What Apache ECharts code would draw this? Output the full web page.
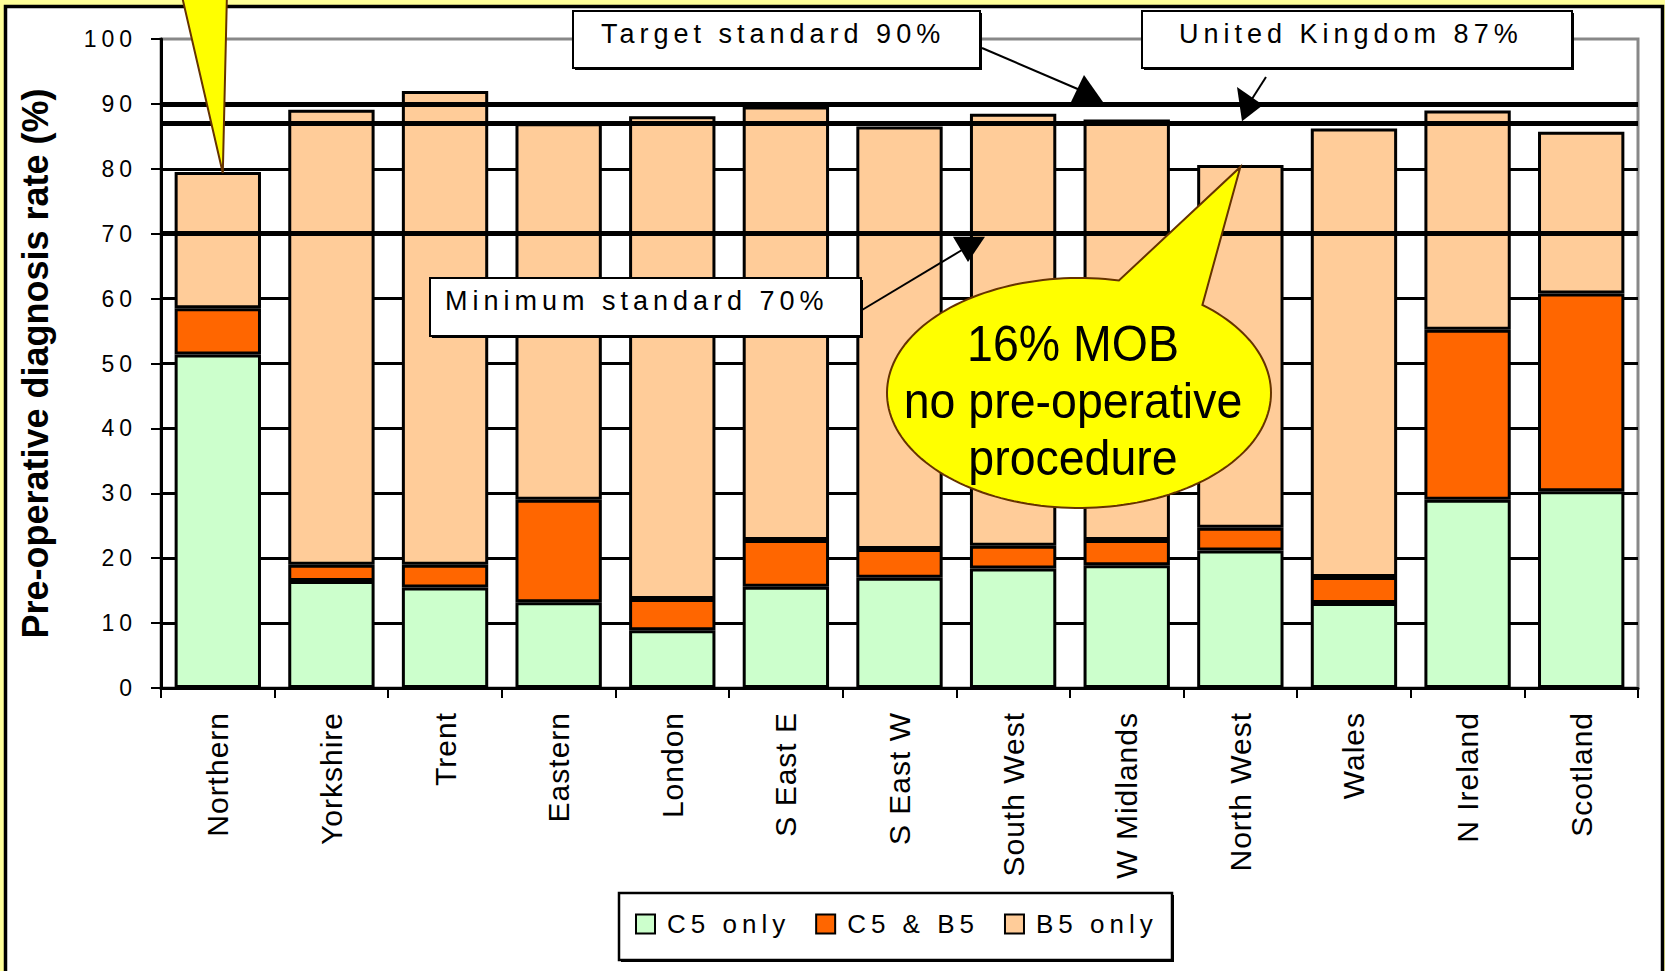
<!DOCTYPE html>
<html>
<head>
<meta charset="utf-8">
<title>Pre-operative diagnosis rate</title>
<script src="https://cdn.jsdelivr.net/npm/echarts@6/dist/echarts.min.js"></script>
<style>
html, body { margin: 0; padding: 0; background: #FFFF99; }
#main { width: 1665px; height: 971px; }
/* 原图文字带字距：字体名里加个标记 sp5 / sp1，用 css 的 letter-spacing 补上 */
#main text[style*="sp5"] { letter-spacing: 5px; }
#main text[style*="sp1"] { letter-spacing: 1px; }
</style>
</head>
<body>
<div id="main"></div>
<script>
// 数据
const categories = ['Northern', 'Yorkshire', 'Trent', 'Eastern', 'London', 'S East E', 'S East W',
  'South West', 'W Midlands', 'North West', 'Wales', 'N Ireland', 'Scotland'];
const c5Only  = [51.4, 16.5, 15.5, 13.2, 8.9, 15.6, 17.0, 18.4, 18.9, 21.2, 13.1, 29.0, 30.3];
const c5AndB5 = [7.1, 2.5, 3.5, 15.8, 4.8, 7.2, 4.4, 3.5, 3.9, 3.5, 4.0, 26.2, 30.5];
const b5Only  = [21.0, 70.1, 73.0, 58.0, 74.4, 66.8, 65.1, 66.6, 64.8, 55.9, 69.1, 33.8, 24.9];
const seriesNames = ['C5 only', 'C5 & B5', 'B5 only'];
const standards = [90, 87, 70];   // target / UK / minimum
const yMin = 0, yMax = 100, yStep = 10;

const SPACED = "'Liberation Sans', sp5";
const chart = echarts.init(document.getElementById('main'), null, { renderer: 'svg' });

function barSeries(name, data, color) {
  return {
    name: name,
    type: 'bar',
    stack: 'total',
    barWidth: '76%',
    data: data,
    itemStyle: { color: color, borderColor: '#000', borderWidth: 3 },
    emphasis: { disabled: true }
  };
}

const seriesList = [
  barSeries(seriesNames[0], c5Only, '#CCFFCC'),
  barSeries(seriesNames[1], c5AndB5, '#FF6600'),
  barSeries(seriesNames[2], b5Only, '#FFCC99')
];
// 标准线 90 / 87 / 70
seriesList[2].markLine = {
  silent: true,
  symbol: ['none', 'none'],
  label: { show: false },
  lineStyle: { color: '#000', width: 5, type: 'solid' },
  emphasis: { disabled: true },
  data: standards.map(v => ({ yAxis: v }))
};

const option = {
  animation: false,
  backgroundColor: '#FFFF99',
  grid: {
    left: 161, right: 27, top: 39, bottom: 283,
    show: true, borderColor: '#888', borderWidth: 3, backgroundColor: 'transparent',
    containLabel: false, outerBoundsMode: 'none'
  },
  legend: {
    left: 635, top: 911, padding: 0,
    itemGap: 60, itemWidth: 19, itemHeight: 19, icon: 'rect',
    itemStyle: { borderColor: '#000', borderWidth: 2 },
    textStyle: { fontSize: 26, fontFamily: SPACED, color: '#000', padding: [0, 0, 0, 7] },
    selectedMode: false,
    data: seriesNames
  },
  xAxis: {
    type: 'category',
    data: categories,
    axisLine: { lineStyle: { color: '#000', width: 3 } },
    axisTick: { show: true, length: 10, lineStyle: { color: '#000', width: 2 } },
    axisLabel: {
      interval: 0, rotate: 90, margin: 24, color: '#000',
      fontSize: 30, fontFamily: "'Liberation Sans', sp1"
    },
    splitLine: { show: false }
  },
  yAxis: {
    type: 'value',
    min: yMin, max: yMax, interval: yStep,
    name: 'Pre-operative diagnosis rate (%)',
    nameLocation: 'middle',
    nameGap: 108,
    nameTextStyle: { fontSize: 36, fontWeight: 'bold', fontFamily: 'Liberation Sans', color: '#000' },
    axisLine: { show: true, lineStyle: { color: '#000', width: 3 } },
    axisTick: { show: true, length: 10, lineStyle: { color: '#000', width: 2 } },
    axisLabel: { margin: 24, color: '#000', fontSize: 23, fontFamily: SPACED },
    splitLine: { show: true, showMaxLine: false, lineStyle: { color: '#000', width: 3 } }
  },
  series: seriesList
};
chart.setOption(option);

// 注释：方框、箭头、黄色气泡，位置按坐标轴换算
const totals = categories.map((c, i) => c5Only[i] + c5AndB5[i] + b5Only[i]);
const yAt = v => chart.convertToPixel({ yAxisIndex: 0 }, v);
const y90 = yAt(standards[0]), y87 = yAt(standards[1]), y70 = yAt(standards[2]);
const pNorth = chart.convertToPixel({ gridIndex: 0 }, [0, totals[0]]);
const pNW = chart.convertToPixel({ gridIndex: 0 }, [9, totals[9]]);

function labelBox(x, y, w, h, text, tx, ty) {
  return [
    { type: 'rect', z: 20, shape: { x: x + 2, y: y + 2, width: w, height: h }, style: { fill: '#000' } },
    { type: 'rect', z: 21, shape: { x: x, y: y, width: w, height: h }, style: { fill: '#fff', stroke: '#000', lineWidth: 2 } },
    { type: 'text', z: 22, x: tx, y: ty,
      style: { text: text, font: "27px " + SPACED, fill: '#000',
        textAlign: 'left', textVerticalAlign: 'middle', align: 'left', verticalAlign: 'middle' } }
  ];
}
function arrow(x1, y1, x2, y2, head) {
  return [
    { type: 'line', z: 20, shape: { x1: x1, y1: y1, x2: x2, y2: y2 }, style: { stroke: '#000', lineWidth: 2 } },
    { type: 'polygon', z: 20, shape: { points: head }, style: { fill: '#000' } }
  ];
}

// 气泡：椭圆 + 尖角，用多边形拼出来
const cx = 1079, cy = 393, rx = 192, ry = 115;
const a1 = -78 * Math.PI / 180, a2 = -50 * Math.PI / 180;
const bubblePts = [[pNW[0], pNW[1] + 2]];
for (let k = 0; k <= 160; k++) {
  const a = a2 + (a1 + 2 * Math.PI - a2) * k / 160;
  bubblePts.push([cx + rx * Math.cos(a), cy + ry * Math.sin(a)]);
}

const graphics = [
  // 外框
  { type: 'rect', z: -10, shape: { x: 5.5, y: 6.5, width: 1657, height: 1000 },
    style: { fill: '#fff', stroke: '#000', lineWidth: 3.5 } },
  // 图例框
  { type: 'rect', z: 2, shape: { x: 621, y: 895, width: 553, height: 67 }, style: { fill: '#000' } },
  { type: 'rect', z: 3, shape: { x: 619, y: 893, width: 553, height: 67 }, style: { fill: '#fff', stroke: '#000', lineWidth: 2.5 } },
  // 左上角黄色尖角
  { type: 'polygon', z: 25, shape: { points: [[181, -8], [227, -8], [pNorth[0] + 5, pNorth[1] + 1]] },
    style: { fill: '#FFFF00', stroke: '#663300', lineWidth: 2 } },
  { type: 'polygon', z: 25, shape: { points: bubblePts },
    style: { fill: '#FFFF00', stroke: '#663300', lineWidth: 2 } },
  { type: 'text', z: 26, x: 1073, y: 400, scaleX: 0.93,
    style: { text: '16% MOB\nno pre-operative\nprocedure', font: "50px 'Liberation Sans'", fill: '#000',
      lineHeight: 57, textAlign: 'center', textVerticalAlign: 'middle', align: 'center', verticalAlign: 'middle' } }
]
  .concat(labelBox(573, 11, 407, 57, 'Target standard 90%', 601, 34))
  .concat(labelBox(1142, 11, 430, 57, 'United Kingdom 87%', 1179, 34))
  .concat(labelBox(430, 278, 431, 58, 'Minimum standard 70%', 445, 301))
  .concat(arrow(982, 48, 1080, 90, [[1084, 75], [1071, y90 - 2], [1103, y90 - 2]]))
  .concat(arrow(1266, 77, 1250, 102, [[1237, 87], [1263, 105], [1242, y87 - 2]]))
  .concat(arrow(862, 310, 962, 250, [[953, y70 + 3], [985, y70 + 3], [968, 262]]));

chart.setOption({ graphic: graphics });
window.addEventListener('resize', () => chart.resize());
</script>
</body>
</html>
